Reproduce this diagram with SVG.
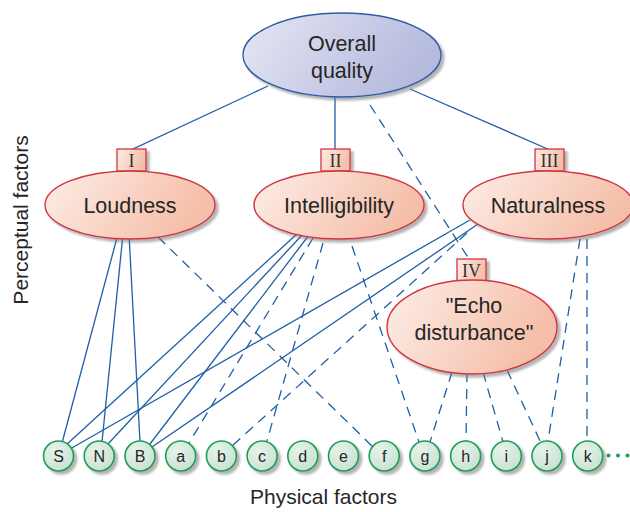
<svg xmlns="http://www.w3.org/2000/svg" width="630" height="512" viewBox="0 0 630 512">
  <defs>
    <linearGradient id="gPink" x1="0" y1="0" x2="1" y2="0.3">
      <stop offset="0" stop-color="#fdeee8"/>
      <stop offset="1" stop-color="#f5bea8"/>
    </linearGradient>
    <linearGradient id="gLav" x1="0" y1="0" x2="1" y2="0.3">
      <stop offset="0" stop-color="#e6e7f4"/>
      <stop offset="1" stop-color="#b6badd"/>
    </linearGradient>
    <radialGradient id="gGreen" cx="0.35" cy="0.3" r="0.8">
      <stop offset="0" stop-color="#e6f3ea"/>
      <stop offset="1" stop-color="#c6e1d0"/>
    </radialGradient>
    <filter id="shadow" x="-20%" y="-20%" width="140%" height="150%">
      <feDropShadow dx="3" dy="3" stdDeviation="1.2" flood-color="#777" flood-opacity="0.55"/>
    </filter>
  </defs>
  <style>
    .lbl { font-family: "Liberation Sans", Arial, sans-serif; fill: #262626; text-anchor: middle; }
    .big { font-size: 21.5px; }
    .small { font-size: 16px; }
    .axis { font-family: "Liberation Sans", Arial, sans-serif; font-size: 21px; fill: #262626; text-anchor: middle; }
    .num { font-family: "Liberation Serif", "Times New Roman", serif; font-size: 18px; fill: #333; text-anchor: middle; }
    .percept { fill: url(#gPink); stroke: #d2343f; stroke-width: 1.4; filter: url(#shadow); }
    .tag { fill: url(#gPink); stroke: #d2343f; stroke-width: 1.3; filter: url(#shadow); }
    .top { fill: url(#gLav); stroke: #2d5ca6; stroke-width: 1.3; filter: url(#shadow); }
    .phys { fill: url(#gGreen); stroke: #1f9e58; stroke-width: 1.6; filter: url(#shadow); }
    .link { stroke: #1f5ea8; stroke-width: 1.3; fill: none; }
    .dash { stroke: #1f5ea8; stroke-width: 1.3; fill: none; stroke-dasharray: 10 7; }
  </style>

  <rect width="630" height="512" fill="#ffffff"/>

  <!-- connectors -->
  <g id="connectors">
    <!-- overall quality to perceptual factors -->
    <polyline class="link" points="268,86 131,150 130,172"/>
    <line class="link" x1="335" y1="95" x2="335" y2="172"/>
    <line class="link" x1="410" y1="89" x2="550" y2="150"/>
    <line class="dash" x1="370" y1="105" x2="469" y2="259"/>
    <!-- loudness -->
    <line class="link" x1="118" y1="234" x2="62" y2="443"/>
    <line class="link" x1="123" y1="234" x2="102" y2="442"/>
    <line class="link" x1="129" y1="234" x2="140" y2="442"/>
    <line class="dash" x1="158" y1="237" x2="372" y2="446"/>
    <!-- intelligibility -->
    <line class="link" x1="298" y1="233" x2="66" y2="445"/>
    <line class="link" x1="303" y1="234" x2="108" y2="444"/>
    <line class="link" x1="309" y1="235" x2="150" y2="444"/>
    <line class="dash" x1="313" y1="238" x2="189" y2="443"/>
    <line class="dash" x1="323" y1="243" x2="267" y2="441"/>
    <line class="dash" x1="352" y1="246" x2="419" y2="442"/>
    <!-- naturalness -->
    <line class="link" x1="470" y1="220" x2="70" y2="449"/>
    <line class="link" x1="478" y1="224" x2="152" y2="447"/>
    <line class="dash" x1="467" y1="233" x2="232" y2="446"/>
    <line class="dash" x1="580" y1="239" x2="548" y2="441"/>
    <line class="dash" x1="587" y1="239" x2="587" y2="441"/>
    <!-- echo disturbance -->
    <line class="dash" x1="452" y1="372" x2="430" y2="442"/>
    <line class="dash" x1="467" y1="372" x2="466" y2="441"/>
    <line class="dash" x1="483" y1="372" x2="503" y2="442"/>
    <line class="dash" x1="507" y1="370" x2="541" y2="443"/>
  </g>

  <!-- overall quality -->
  <g id="overall">
    <ellipse class="top" cx="342" cy="55" rx="99" ry="42"/>
    <text class="lbl big" x="342" y="51">Overall</text>
    <text class="lbl big" x="342" y="78">quality</text>
  </g>

  <!-- perceptual factors -->
  <g id="loudness">
    <rect class="tag" x="117" y="149" width="29" height="22"/>
    <text class="num" x="131.5" y="167">I</text>
    <ellipse class="percept" cx="130" cy="205" rx="85" ry="34"/>
    <text class="lbl big" x="130" y="213">Loudness</text>
  </g>
  <g id="intelligibility">
    <rect class="tag" x="321" y="149" width="29" height="22"/>
    <text class="num" x="335.5" y="167">II</text>
    <ellipse class="percept" cx="339" cy="205" rx="85" ry="34"/>
    <text class="lbl big" x="339" y="213">Intelligibility</text>
  </g>
  <g id="naturalness">
    <rect class="tag" x="535" y="149" width="29" height="22"/>
    <text class="num" x="549.5" y="167">III</text>
    <ellipse class="percept" cx="548" cy="205" rx="85" ry="34"/>
    <text class="lbl big" x="548" y="213">Naturalness</text>
  </g>
  <g id="echo">
    <rect class="tag" x="457" y="259" width="29" height="22"/>
    <text class="num" x="471.5" y="277">IV</text>
    <ellipse class="percept" cx="472" cy="327" rx="85" ry="47"/>
    <text class="lbl big" x="474" y="313">"Echo</text>
    <text class="lbl big" x="474" y="340">disturbance"</text>
  </g>

  <!-- physical factors -->
  <g id="phys-S"><circle class="phys" cx="58.5" cy="456" r="15"/><text class="lbl small" x="58.5" y="461.5">S</text></g>
  <g id="phys-N"><circle class="phys" cx="99.2" cy="456" r="15"/><text class="lbl small" x="99.2" y="461.5">N</text></g>
  <g id="phys-B"><circle class="phys" cx="140" cy="456" r="15"/><text class="lbl small" x="140" y="461.5">B</text></g>
  <g id="phys-a"><circle class="phys" cx="180.7" cy="456" r="15"/><text class="lbl small" x="180.7" y="461.5">a</text></g>
  <g id="phys-b"><circle class="phys" cx="221.4" cy="456" r="15"/><text class="lbl small" x="221.4" y="461.5">b</text></g>
  <g id="phys-c"><circle class="phys" cx="262.1" cy="456" r="15"/><text class="lbl small" x="262.1" y="461.5">c</text></g>
  <g id="phys-d"><circle class="phys" cx="302.8" cy="456" r="15"/><text class="lbl small" x="302.8" y="461.5">d</text></g>
  <g id="phys-e"><circle class="phys" cx="343.5" cy="456" r="15"/><text class="lbl small" x="343.5" y="461.5">e</text></g>
  <g id="phys-f"><circle class="phys" cx="384.2" cy="456" r="15"/><text class="lbl small" x="384.2" y="461.5">f</text></g>
  <g id="phys-g"><circle class="phys" cx="424.9" cy="456" r="15"/><text class="lbl small" x="424.9" y="461.5">g</text></g>
  <g id="phys-h"><circle class="phys" cx="465.6" cy="456" r="15"/><text class="lbl small" x="465.6" y="461.5">h</text></g>
  <g id="phys-i"><circle class="phys" cx="506.3" cy="456" r="15"/><text class="lbl small" x="506.3" y="461.5">i</text></g>
  <g id="phys-j"><circle class="phys" cx="547" cy="456" r="15"/><text class="lbl small" x="547" y="461.5">j</text></g>
  <g id="phys-k"><circle class="phys" cx="587.7" cy="456" r="15"/><text class="lbl small" x="587.7" y="461.5">k</text></g>
  <g id="more" fill="#1f9e58">
    <circle cx="608.5" cy="455.5" r="2"/>
    <circle cx="618" cy="455.5" r="2"/>
    <circle cx="627.5" cy="455.5" r="2"/>
  </g>

  <!-- axis titles -->
  <text class="axis" x="323.5" y="504">Physical factors</text>
  <text class="axis" transform="translate(28,220) rotate(-90)">Perceptual factors</text>
</svg>
